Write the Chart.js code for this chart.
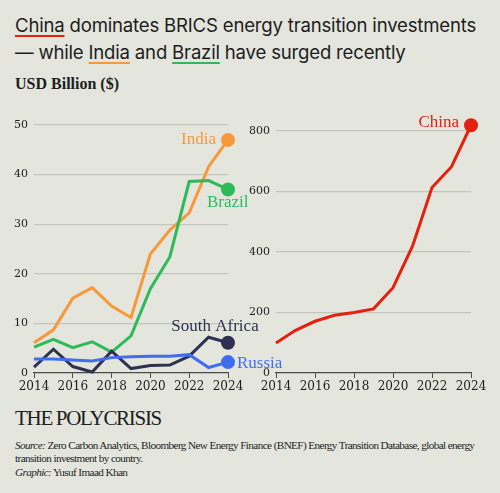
<!DOCTYPE html>
<html>
<head>
<meta charset="utf-8">
<script src="https://cdn.jsdelivr.net/npm/chart.js@4"></script>
<style>
  body { margin: 0; background: #e4e6de; width: 500px; height: 493px; overflow: hidden; position: relative; }
  .t { position: absolute; left: 15px; color: #1d1d1d; white-space: nowrap; }
  #title { top: 12px; font-family: Inter, "Noto Sans", sans-serif; font-size: 18.6px; line-height: 27px; letter-spacing: -0.2px; }
  #title u { text-decoration-thickness: 2px; text-underline-offset: 3px; }
  #unit { top: 75px; font-family: "Liberation Serif", serif; font-weight: bold; font-size: 16px; }
  #logo { top: 406px; font-family: "Liberation Serif", serif; font-size: 21px; letter-spacing: -1.3px; }
  #src { top: 439px; font-family: "Liberation Serif", serif; font-size: 11.2px; letter-spacing: -0.6px; line-height: 13.3px; }
  canvas { position: absolute; }
</style>
</head>
<body>
<div class="t" id="title"><u style="text-decoration-color:#e5200f">China</u> dominates BRICS energy transition investments<br>— while <u style="text-decoration-color:#f7993a">India</u> and <u style="text-decoration-color:#2dbb5a">Brazil</u> have surged recently</div>
<div class="t" id="unit">USD Billion ($)</div>
<div class="t" id="logo">THE POLYCRISIS</div>
<div class="t" id="src"><i>Source:</i> Zero Carbon Analytics, Bloomberg New Energy Finance (BNEF) Energy Transition Database, global energy<br>transition investment by country.<br><i>Graphic:</i> Yusuf Imaad Khan</div>
<div style="position:absolute;left:245px;top:110px;width:255px;height:290px"><canvas id="right"></canvas></div>
<div style="position:absolute;left:0;top:110px;width:290px;height:290px"><canvas id="left"></canvas></div>
<script>
const years = [2014, 2015, 2016, 2017, 2018, 2019, 2020, 2021, 2022, 2023, 2024];
const india = [6.1, 8.7, 15.1, 17.2, 13.5, 11.2, 24.0, 28.8, 32.3, 41.6, 47.0];
const brazil = [5.2, 6.8, 5.1, 6.3, 4.2, 7.5, 17.0, 23.4, 38.6, 38.8, 37.0];
const southAfrica = [1.2, 4.8, 1.3, 0.2, 4.4, 0.9, 1.5, 1.6, 3.4, 7.2, 6.1];
const russia = [2.8, 2.8, 2.6, 2.4, 3.1, 3.3, 3.4, 3.4, 3.7, 1.1, 2.2];
const china = [99, 141, 171, 191, 200, 212, 282, 419, 613, 682, 819];
const leftTicks = [0, 10, 20, 30, 40, 50];
const rightTicks = [0, 200, 400, 600, 800];

const serif = '"Liberation Serif", serif';
const tickFont = '"DejaVu Serif", serif';
const axisColor = '#4a4a4a';

function series(name, values, color, label) {
  return {
    label: name,
    data: values.map((v, i) => ({ x: years[i], y: v })),
    borderColor: color,
    backgroundColor: color,
    borderWidth: 3,
    pointRadius: c => c.dataIndex === values.length - 1 ? 5.5 : 0,
    pointHoverRadius: 0,
    tension: 0,
    clip: false,
    endLabel: label
  };
}

// draw the country name next to the end point of each line
const endLabels = {
  id: 'endLabels',
  afterDatasetsDraw(chart) {
    const ctx = chart.ctx;
    chart.data.datasets.forEach((ds, i) => {
      const lab = ds.endLabel;
      if (!lab) return;
      const pts = chart.getDatasetMeta(i).data;
      const p = pts[pts.length - 1];
      ctx.save();
      ctx.font = '17px ' + serif;
      ctx.fillStyle = ds.borderColor;
      ctx.textAlign = lab.align;
      ctx.textBaseline = 'alphabetic';
      ctx.fillText(ds.label, p.x + lab.dx, p.y + lab.dy);
      ctx.restore();
    });
  }
};

function options(ticks, yMax, yWidth, padRight, padTop) {
  return {
    responsive: true,
    maintainAspectRatio: false,
    animation: false,
    layout: { padding: { top: padTop, right: padRight, left: 0, bottom: 0 } },
    plugins: { legend: { display: false }, tooltip: { enabled: false } },
    scales: {
      x: {
        type: 'linear', min: 2014, max: 2024,
        afterBuildTicks: s => { s.ticks = years.filter(y => y % 2 === 0).map(v => ({ value: v })); },
        afterFit: s => { s.height = 27; },
        ticks: { callback: v => String(v), color: '#1d1d1d', font: { family: tickFont, size: 12 }, padding: 2, maxRotation: 0 },
        grid: { drawOnChartArea: false, color: axisColor, tickLength: 5, lineWidth: 1 },
        border: { color: axisColor, width: 1.2 }
      },
      y: {
        min: 0, max: yMax,
        afterBuildTicks: s => { s.ticks = ticks.map(v => ({ value: v })); },
        afterFit: s => { s.width = yWidth; },
        ticks: { color: '#1d1d1d', font: { family: tickFont, size: 11 }, padding: 6 },
        grid: { color: c => c.tick.value === 0 ? 'rgba(0,0,0,0)' : '#c4c6be', lineWidth: 1.2, drawTicks: false },
        border: { display: false }
      }
    }
  };
}

new Chart(document.getElementById('left'), {
  type: 'line',
  data: {
    datasets: [
      series('Russia', russia, '#3f6ef0', { align: 'left', dx: 9, dy: 6 }),
      series('South Africa', southAfrica, '#2e3150', { align: 'center', dx: -13, dy: -12 }),
      series('Brazil', brazil, '#2dbb5a', { align: 'left', dx: -21, dy: 18 }),
      series('India', india, '#f7993a', { align: 'right', dx: -12, dy: 4 })
    ]
  },
  options: options(leftTicks, 50, 34, 62, 15),
  plugins: [endLabels]
});

new Chart(document.getElementById('right'), {
  type: 'line',
  data: {
    datasets: [
      series('China', china, '#e5200f', { align: 'right', dx: -12, dy: 2 })
    ]
  },
  options: options(rightTicks, 800, 31, 29, 21),
  plugins: [endLabels]
});
</script>
</body>
</html>
